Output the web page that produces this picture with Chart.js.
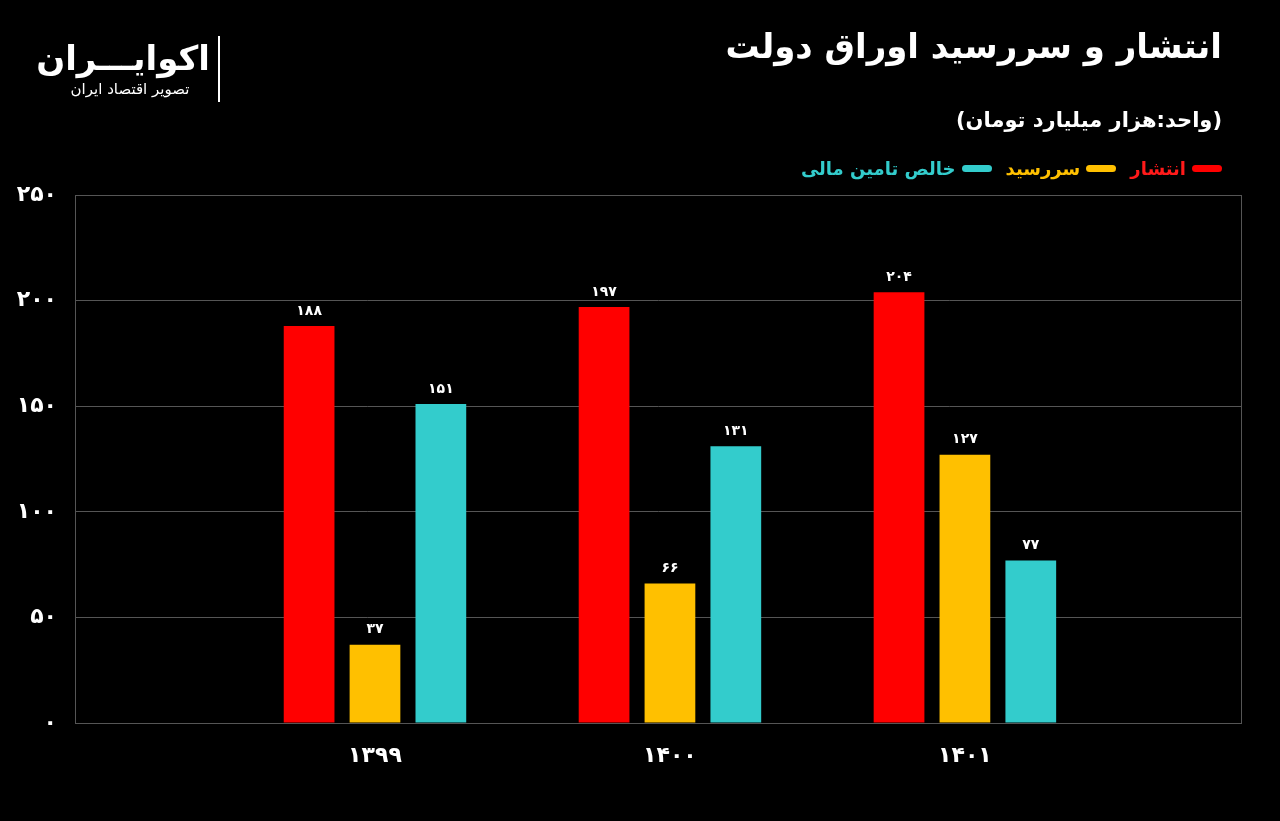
<!DOCTYPE html>
<html><head><meta charset="utf-8">
<script src="https://cdn.jsdelivr.net/npm/chart.js@4"></script>
<style>
body{margin:0;background:#000;width:1280px;height:821px;overflow:hidden;font-family:"DejaVu Sans",sans-serif;color:#fff;position:relative}
#c{position:absolute;left:0;top:0}
.t{position:absolute;right:58px;top:26px;font-size:34px;font-weight:bold;direction:rtl}
.u{position:absolute;right:58px;top:108px;font-size:21px;font-weight:bold;direction:rtl}
.lg{position:absolute;right:58px;top:158px;font-size:18px;font-weight:bold;direction:rtl;display:flex;gap:14px}
.lg span{display:flex;align-items:center;gap:6px}
.lg i{display:inline-block;width:30px;height:7px;border-radius:4px}
.logo{position:absolute;left:50px;top:38px;width:160px;direction:rtl;text-align:justify}
</style></head><body>
<canvas id="c" width="1280" height="821"></canvas>
<div class="t">انتشار و سررسید اوراق دولت</div>
<div class="u">(واحد:هزار میلیارد تومان)</div>
<div class="lg"><span style="color:#ff1a1a"><i style="background:#ff0000"></i>انتشار</span><span style="color:#ffc000"><i style="background:#ffc000"></i>سررسید</span><span style="color:#33cccc"><i style="background:#33cccc"></i>خالص تامین مالی</span></div>
<div class="logo"><div style="font-size:34px;font-weight:bold;text-align:center">اکوایـــران</div><div style="font-size:15px;margin-top:2px;text-align:center">تصویر اقتصاد ایران</div></div>
<div style="position:absolute;left:218px;top:36px;width:2px;height:66px;background:#fff"></div>
<script>
const categories=['۱۳۹۹','۱۴۰۰','۱۴۰۱'];
const seriesNames=['انتشار','سررسید','خالص تامین مالی'];
const issuance=[188,197,204];
const maturity=[37,66,127];
const netFinancing=[151,131,77];
const yTicks=[0,50,100,150,200,250];
const fa=n=>String(n).replace(/\d/g,d=>'۰۱۲۳۴۵۶۷۸۹'[d]);
const colors=['#ff0000','#ffc000','#33cccc'];
const mk=arr=>arr.map((v,i)=>({x:i,y:v}));
const labelsPlugin={id:'lbl',afterDatasetsDraw(ch){const c=ch.ctx;c.save();c.fillStyle='#fff';c.font='bold 14px "DejaVu Sans"';c.textAlign='center';c.textBaseline='bottom';
ch.data.datasets.forEach((d,di)=>{ch.getDatasetMeta(di).data.forEach((b,i)=>{c.fillText(fa(d.data[i].y),b.x,b.y-8);});});c.restore();}};
new Chart(document.getElementById('c'),{type:'bar',
data:{datasets:[issuance,maturity,netFinancing].map((a,i)=>({label:seriesNames[i],data:mk(a),backgroundColor:colors[i],categoryPercentage:0.67,barPercentage:0.77}))},
options:{responsive:false,animation:false,layout:{padding:{top:195,right:39}},
plugins:{legend:{display:false},tooltip:{enabled:false}},
scales:{
x:{type:'linear',offset:false,min:-1.017,max:2.936,afterFit:s=>{s.height=98},afterBuildTicks:s=>{s.ticks=categories.map((c,i)=>({value:i}))},
ticks:{color:'#fff',padding:12,font:{size:22,weight:'bold',family:'DejaVu Sans'},callback:v=>categories[v]},grid:{display:false},border:{color:'#666'}},
y:{min:0,max:250,afterFit:s=>{s.width=75},afterBuildTicks:s=>{s.ticks=yTicks.map(v=>({value:v}))},
ticks:{color:'#fff',padding:18,font:{size:22,weight:'bold',family:'DejaVu Sans'},callback:v=>fa(v)},grid:{color:'#555',drawTicks:false},border:{color:'#666'}}
}},plugins:[labelsPlugin,{id:'frame',afterDraw(ch){const a=ch.chartArea,c=ch.ctx;c.save();c.strokeStyle='#555';c.lineWidth=1;c.strokeRect(a.left+.5,a.top+.5,a.right-a.left,a.bottom-a.top);c.restore();}}]});
</script></body></html>
